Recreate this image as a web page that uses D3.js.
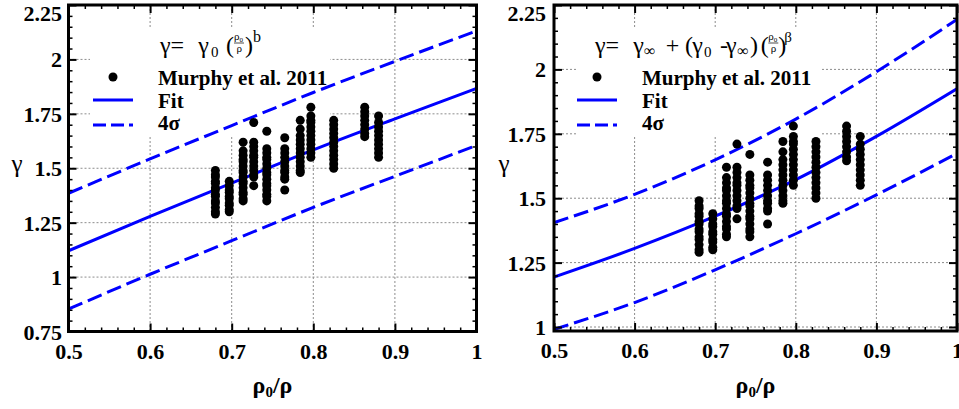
<!DOCTYPE html>
<html><head><meta charset="utf-8">
<script src="https://cdn.jsdelivr.net/npm/d3@7"></script>
<style>body{margin:0;background:#fff;} svg{display:block;}</style>
</head><body><svg id="c" width="959" height="409"></svg>
<script>
// ---- data ----
const murphyX = [0.680, 0.697, 0.714, 0.727, 0.743, 0.765, 0.784, 0.797, 0.825, 0.863, 0.880];
const murphyGamma = [
  [1.29,1.30,1.32,1.34,1.35,1.37,1.38,1.40,1.41,1.43,1.44,1.46,1.47,1.49],
  [1.30,1.31,1.33,1.34,1.36,1.37,1.39,1.40,1.42,1.44],
  [1.35,1.36,1.38,1.39,1.41,1.43,1.44,1.46,1.48,1.49,1.51,1.53,1.54,1.56,1.58,1.62],
  [1.42,1.46,1.47,1.49,1.51,1.53,1.55,1.56,1.58,1.60,1.62,1.71],
  [1.35,1.37,1.38,1.40,1.42,1.43,1.45,1.47,1.48,1.50,1.52,1.54,1.55,1.57,1.59,1.67],
  [1.40,1.45,1.46,1.48,1.49,1.51,1.53,1.55,1.57,1.59,1.64],
  [1.48,1.49,1.51,1.53,1.55,1.57,1.59,1.61,1.63,1.65,1.68,1.72],
  [1.55,1.57,1.59,1.61,1.63,1.65,1.67,1.69,1.71,1.72,1.74,1.78],
  [1.50,1.52,1.54,1.56,1.58,1.60,1.62,1.64,1.66,1.68,1.70,1.72],
  [1.645,1.66,1.68,1.70,1.72,1.74,1.76,1.78],
  [1.55,1.57,1.59,1.61,1.63,1.65,1.67,1.69,1.71,1.74]
];
const curveX = [0.5, 0.6, 0.7, 0.8, 0.9, 1.0];
const powerFit   = [1.121, 1.279, 1.432, 1.584, 1.727, 1.867];
const powerUpper = [1.385, 1.543, 1.696, 1.848, 1.991, 2.131];
const powerLower = [0.853, 1.013, 1.167, 1.320, 1.463, 1.605];
const asymFit    = [1.194, 1.305, 1.430, 1.572, 1.740, 1.925];
const asymUpper  = [1.405, 1.515, 1.649, 1.807, 1.991, 2.194];
const asymLower  = [0.991, 1.095, 1.222, 1.362, 1.513, 1.674];
const xTicks = [0.5, 0.6, 0.7, 0.8, 0.9, 1];
const yTicksLeft = [0.75, 1, 1.25, 1.5, 1.75, 2, 2.25];
const yTicksRight = [1, 1.25, 1.5, 1.75, 2, 2.25];
const legendLabels = ["Murphy et al. 2011", "Fit", "4\u03c3"];

// ---- drawing ----
const svg = d3.select("#c");
const SERIF = "'Liberation Serif','Times New Roman',serif";
const BLUE = "#0000ff";

function drawFormula(g, x0, yb, pieces) {
  const t = g.append("text").style("font-family", SERIF).style("font-size", "24px").attr("fill", "#000");
  pieces.forEach(p => {
    if (p.frac) {
      t.append("tspan").attr("x", x0 + p.dx).attr("y", yb - 13).style("font-size", "11px").text("\u03c1");
      t.append("tspan").attr("y", yb - 11.5).style("font-size", "7px").text("0");
      t.append("tspan").attr("x", x0 + p.dx + 2.5).attr("y", yb - 1.5).style("font-size", "11px").text("\u03c1");
      g.append("line").attr("x1", x0 + p.dx).attr("x2", x0 + p.dx + 10)
        .attr("y1", yb - 10).attr("y2", yb - 10).attr("stroke", "#000").attr("stroke-width", 0.7);
    } else {
      t.append("tspan").attr("x", x0 + p.dx).attr("y", yb + (p.dy || 0))
        .style("font-size", (p.fs || 24) + "px").text(p.t);
    }
  });
}

function panel(cfg) {
  const x = d3.scaleLinear().domain([0.5, 1]).range([cfg.x0, cfg.x1]);
  const y = d3.scaleLinear().domain(cfg.yDomain).range([cfg.y1, cfg.y0]);
  const g = svg.append("g");
  const clipId = "clip" + cfg.id;
  g.append("clipPath").attr("id", clipId).append("rect")
    .attr("x", cfg.x0).attr("y", cfg.y0).attr("width", cfg.x1 - cfg.x0).attr("height", cfg.y1 - cfg.y0);

  // gridlines
  const grid = g.append("g").attr("stroke", "#8c8c8c").attr("stroke-width", 1).attr("stroke-dasharray", "2,2");
  xTicks.filter(v => x(v) > cfg.x0 + 2 && x(v) < cfg.x1 - 2).forEach(v => {
    grid.append("line").attr("x1", x(v)).attr("x2", x(v)).attr("y1", cfg.y0).attr("y2", cfg.y1);
  });
  cfg.yTicks.filter(v => y(v) > cfg.y0 + 2 && y(v) < cfg.y1 - 2).forEach(v => {
    grid.append("line").attr("x1", cfg.x0).attr("x2", cfg.x1).attr("y1", y(v)).attr("y2", y(v));
  });

  // legend background
  g.append("rect").attr("x", cfg.leg.bx).attr("y", cfg.leg.by).attr("width", cfg.leg.bw)
    .attr("height", cfg.leg.bh).attr("fill", "#fff");

  // curves
  const line = d3.line().x((d, i) => x(curveX[i])).y(d => y(d)).curve(d3.curveMonotoneX);
  const lines = g.append("g").attr("clip-path", `url(#${clipId})`).attr("fill", "none")
    .attr("stroke", BLUE).attr("stroke-width", 3);
  lines.append("path").attr("d", line(cfg.fit));
  lines.append("path").attr("d", line(cfg.upper)).attr("stroke-dasharray", "15,6");
  lines.append("path").attr("d", line(cfg.lower)).attr("stroke-dasharray", "15,6");

  // points
  const pts = [];
  murphyX.forEach((xv, i) => murphyGamma[i].forEach(gv => pts.push([xv, gv])));
  g.append("g").selectAll("circle").data(pts).join("circle")
    .attr("cx", d => x(d[0])).attr("cy", d => y(d[1])).attr("r", 4.5).attr("fill", "#000");

  // minor ticks (all four sides, inward)
  const xMinor = d3.range(0.52, 1.0, 0.02).filter(v => Math.abs(v * 10 - Math.round(v * 10)) > 1e-6);
  const yStart = Math.ceil(cfg.yDomain[0] / 0.05) * 0.05;
  const yMinor = d3.range(yStart, cfg.yDomain[1], 0.05).filter(v => Math.abs(v * 4 - Math.round(v * 4)) > 1e-6);
  const axes = g.append("g");
  const styleAxis = sel => { sel.select(".domain").remove(); sel.selectAll("line").attr("stroke", "#000"); };
  axes.append("g").attr("transform", `translate(0,${cfg.y1})`)
    .call(d3.axisBottom(x).tickValues(xMinor).tickSize(-4).tickFormat("")).call(styleAxis)
    .selectAll("line").attr("stroke-width", 1.5);
  axes.append("g").attr("transform", `translate(0,${cfg.y0})`)
    .call(d3.axisTop(x).tickValues(xMinor).tickSize(-4).tickFormat("")).call(styleAxis)
    .selectAll("line").attr("stroke-width", 1.5);
  axes.append("g").attr("transform", `translate(${cfg.x0},0)`)
    .call(d3.axisLeft(y).tickValues(yMinor).tickSize(-4).tickFormat("")).call(styleAxis)
    .selectAll("line").attr("stroke-width", 1.5);
  axes.append("g").attr("transform", `translate(${cfg.x1},0)`)
    .call(d3.axisRight(y).tickValues(yMinor).tickSize(-4).tickFormat("")).call(styleAxis)
    .selectAll("line").attr("stroke-width", 1.5);
  // major ticks
  axes.append("g").attr("transform", `translate(0,${cfg.y0})`)
    .call(d3.axisTop(x).tickValues(xTicks).tickSize(-8).tickFormat("")).call(styleAxis)
    .selectAll("line").attr("stroke-width", 2);
  axes.append("g").attr("transform", `translate(${cfg.x1},0)`)
    .call(d3.axisRight(y).tickValues(cfg.yTicks).tickSize(-8).tickFormat("")).call(styleAxis)
    .selectAll("line").attr("stroke-width", 2);
  const tickFont = sel => sel.style("font-family", SERIF).style("font-size", "22px")
    .style("font-weight", "bold").attr("fill", "#000");
  const bx = axes.append("g").attr("transform", `translate(0,${cfg.y1})`)
    .call(d3.axisBottom(x).tickValues(xTicks).tickSize(-8).tickFormat(d3.format("~g"))).call(styleAxis);
  bx.selectAll("line").attr("stroke-width", 2);
  bx.selectAll("text").attr("y", 27).attr("dy", 0).call(tickFont);
  const ly = axes.append("g").attr("transform", `translate(${cfg.x0},0)`)
    .call(d3.axisLeft(y).tickValues(cfg.yTicks).tickSize(-8).tickFormat(d3.format("~g"))).call(styleAxis);
  ly.selectAll("line").attr("stroke-width", 2);
  ly.selectAll("text").attr("x", -cfg.labelGap).call(tickFont)
    .attr("dy", d => (y(d) < cfg.y0 + 8 ? (cfg.y0 + 7.5 - y(d)) + "px" : "0"))
    .attr("dominant-baseline", "central");

  // frame
  g.append("rect").attr("x", cfg.x0).attr("y", cfg.y0).attr("width", cfg.x1 - cfg.x0)
    .attr("height", cfg.y1 - cfg.y0).attr("fill", "none").attr("stroke", "#000").attr("stroke-width", 3);

  // axis titles
  const xt = g.append("text").attr("x", (cfg.x0 + cfg.x1) / 2).attr("y", 393).attr("text-anchor", "middle")
    .style("font-family", SERIF).style("font-weight", "bold").style("font-size", "24px");
  xt.append("tspan").text("\u03c1");
  xt.append("tspan").style("font-size", "15px").attr("dy", 4).text("0");
  xt.append("tspan").attr("dy", -4).text("/\u03c1");
  g.append("text").attr("x", cfg.yTitleX).attr("y", 172).attr("text-anchor", "middle")
    .style("font-family", SERIF).style("font-size", "25px").text("\u03b3");

  // legend
  const L = cfg.leg;
  drawFormula(g, L.fx, 53, cfg.formula);
  g.append("circle").attr("cx", L.mx).attr("cy", 77).attr("r", 4.5).attr("fill", "#000");
  g.append("line").attr("x1", L.lx1).attr("x2", L.lx2).attr("y1", 100).attr("y2", 100)
    .attr("stroke", BLUE).attr("stroke-width", 3);
  g.append("line").attr("x1", L.lx1).attr("x2", L.lx2).attr("y1", 125).attr("y2", 125)
    .attr("stroke", BLUE).attr("stroke-width", 3).attr("stroke-dasharray", "13,5");
  [85, 107.5, 130].forEach((yy, i) => {
    g.append("text").attr("x", L.tx).attr("y", yy).style("font-family", SERIF)
      .style("font-weight", "bold").style("font-size", "21px").text(legendLabels[i]);
  });
}

panel({
  id: "L", x0: 68.5, x1: 476.5, y0: 5, y1: 331.5, yDomain: [0.75, 2.25], yTicks: yTicksLeft,
  fit: powerFit, upper: powerUpper, lower: powerLower, labelGap: 6.5, yTitleX: 17,
  leg: { bx: 90, by: 28, bw: 240, bh: 108, fx: 160, mx: 113, lx1: 93, lx2: 133, tx: 158 },
  formula: [
    { t: "\u03b3=", dx: 0 }, { t: "\u03b3", dx: 38.3 }, { t: "0", dx: 51, fs: 15, dy: 4 },
    { t: "(", dx: 66 }, { frac: true, dx: 74 }, { t: ")", dx: 85 }, { t: "b", dx: 93, fs: 16, dy: -11 }
  ]
});
panel({
  id: "R", x0: 554, x1: 957, y0: 5, y1: 331, yDomain: [0.9845, 2.25], yTicks: yTicksRight,
  fit: asymFit, upper: asymUpper, lower: asymLower, labelGap: 8, yTitleX: 504,
  leg: { bx: 576, by: 27, bw: 244, bh: 109, fx: 595, mx: 597, lx1: 577, lx2: 617, tx: 642 },
  formula: [
    { t: "\u03b3=", dx: 0 }, { t: "\u03b3", dx: 38.3 }, { t: "\u221e", dx: 49, fs: 16, dy: 3 },
    { t: "+", dx: 70.7 }, { t: "(", dx: 90 }, { t: "\u03b3", dx: 97.3 }, { t: "0", dx: 109, fs: 15, dy: 4 },
    { t: "-", dx: 125 }, { t: "\u03b3", dx: 131 }, { t: "\u221e", dx: 142.3, fs: 16, dy: 3 },
    { t: ")", dx: 155 }, { t: "(", dx: 165.7 }, { frac: true, dx: 173.3 }, { t: ")", dx: 183.3 },
    { t: "\u03b2", dx: 189.3, fs: 15, dy: -11 }
  ]
});
</script></body></html>
